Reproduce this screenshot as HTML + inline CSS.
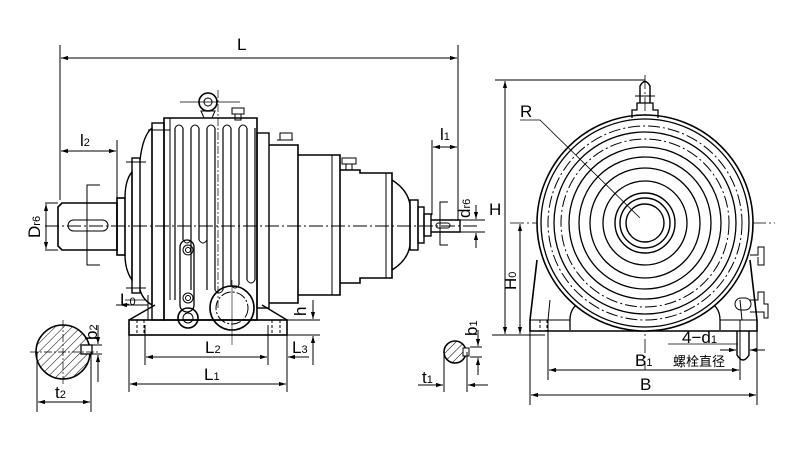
<!DOCTYPE html>
<html><head><meta charset="utf-8"><style>
html,body{margin:0;padding:0;background:#fff}
svg{display:block}
text{font-family:"Liberation Sans","Noto Sans CJK SC",sans-serif;fill:#000}
</style></head><body>
<svg width="799" height="454" viewBox="0 0 799 454" xmlns="http://www.w3.org/2000/svg">
<defs>
<marker id="a" viewBox="0 0 10 10" refX="10" refY="5" markerWidth="7" markerHeight="7" orient="auto-start-reverse"><path d="M0,2 L10,5 L0,8z" fill="#000"/></marker>
<pattern id="h" width="6" height="6" patternUnits="userSpaceOnUse" patternTransform="rotate(45)"><line x1="0" y1="0" x2="0" y2="6" stroke="#000" stroke-width="1"/></pattern>
</defs>
<g fill="none" stroke="#000" stroke-width="1">
<!-- L dimension -->
<line x1="60" y1="45" x2="60" y2="200"/>
<line x1="458" y1="45" x2="458" y2="220"/>
<line x1="61" y1="58" x2="457" y2="58" marker-start="url(#a)" marker-end="url(#a)"/>
<!-- l2 -->
<line x1="117" y1="140" x2="117" y2="200"/>
<line x1="61" y1="151" x2="116" y2="151" marker-start="url(#a)" marker-end="url(#a)"/>
<!-- l1 -->
<line x1="432" y1="140" x2="432" y2="215"/>
<line x1="433" y1="147" x2="457" y2="147" marker-start="url(#a)" marker-end="url(#a)"/>
<!-- center line -->
<line x1="45" y1="226" x2="480" y2="226" stroke-dasharray="14 3 2 3"/>
<!-- input shaft -->
<path d="M58,207 L62,203 L117,203 L117,250 L62,250 L58,246Z" stroke-width="1.6"/>
<rect x="68" y="220" width="40" height="11" rx="5.5"/>
<line x1="45" y1="203" x2="58" y2="203"/><line x1="45" y1="250" x2="58" y2="250"/>
<line x1="46" y1="204" x2="46" y2="249" marker-start="url(#a)" marker-end="url(#a)"/>
<polyline points="100,185 87,185 87,265 100,265"/>
<!-- left flange/dome -->
<rect x="117" y="198" width="8" height="57" stroke-width="1.6"/>
<path d="M125,198 Q125,180 132,172 L132,280 Q125,270 125,255" stroke-width="1.4"/>
<rect x="132" y="158" width="8" height="135" stroke-width="1.4"/>
<line x1="126" y1="162" x2="146" y2="162"/><line x1="126" y1="288" x2="146" y2="288"/>
<path d="M140,160 Q143,135 152,128 L152,305 Q143,300 140,290" stroke-width="1.4"/>
<line x1="125" y1="300" x2="145" y2="300" stroke-width="0.8"/>
<line x1="120" y1="305" x2="148" y2="305" marker-start="url(#a)" />
<line x1="148" y1="295" x2="148" y2="320"/>
<!-- main finned body -->
<rect x="152" y="123" width="12" height="197" stroke-width="1.4"/>
<line x1="148" y1="130" x2="170" y2="130"/>
<path d="M164,118 L257,118 L257,320 L164,320Z" stroke-width="1.6"/>
<line x1="170" y1="118" x2="170" y2="300"/>
<path d="M175,128 L175,300 M183,128 L183,240 M191,128 L191,290 M199,128 L199,240 M207,128 L207,290 M215,128 L215,290 M223,128 L223,290 M231,128 L231,285 M239,128 L239,285 M247,128 L247,280 M255,128 L255,280" stroke-width="1.2"/>
<path d="M175,128 Q179,122 183,128 M191,128 Q195,122 199,128 M207,128 Q211,122 215,128 M223,128 Q227,122 231,128 M239,128 Q243,122 247,128" />
<path d="M183,240 Q187,246 191,240 M199,240 Q203,246 207,240 M215,290 Q219,296 223,290 M231,285 Q235,291 239,285 M247,280 Q251,286 255,280"/>
<rect x="257" y="133" width="12" height="175" stroke-width="1.4"/>
<!-- eye bolt -->
<circle cx="208" cy="102" r="9" stroke-width="1.6"/><circle cx="208" cy="102" r="4"/>
<path d="M201,111 L215,111 L212,118 L204,118Z"/>
<line x1="180" y1="102" x2="240" y2="102" stroke-width="0.7"/>
<rect x="232" y="108" width="12" height="6"/><rect x="235" y="114" width="6" height="6"/>
<line x1="218" y1="90" x2="218" y2="310" stroke-dasharray="8 2 2 2" stroke-width="0.7"/>
<!-- oil gauge -->
<rect x="180" y="240" width="14" height="72" rx="7" stroke-width="1.3"/>
<circle cx="188" cy="250" r="5"/><circle cx="188" cy="250" r="2.5"/>
<circle cx="188" cy="298" r="5"/><circle cx="188" cy="298" r="2.5"/>
<circle cx="188" cy="318" r="10" stroke-width="1.6"/><circle cx="188" cy="318" r="5"/>
<!-- motor round -->
<circle cx="232" cy="308" r="22" stroke-width="1.6"/>
<circle cx="232" cy="308" r="16" stroke-dasharray="10 2 2 2"/>
<line x1="232" y1="280" x2="232" y2="345" stroke-width="0.6"/>
<!-- base -->
<path d="M129,320 L155,305 M287,320 L262,305" stroke-width="1.4"/>
<rect x="129" y="320" width="158" height="15" stroke-width="1.6"/>
<path d="M137,320 V335 M144,320 V335 M272,320 V335 M280,320 V335" stroke-dasharray="3 2"/>
<!-- second housing -->
<path d="M269,145 L298,145 L298,303 L269,303" stroke-width="1.6"/>
<path d="M277,140 L293,140 M280,133 h12 v7 h-12z" />
<path d="M298,155 L340,155 L340,295 L298,295" stroke-width="1.6"/>
<line x1="332" y1="155" x2="332" y2="295"/>
<rect x="342" y="158" width="14" height="6"/><rect x="346" y="164" width="6" height="6"/>
<path d="M340,170 L360,170 L360,173 L392,173 L392,278 L360,278 L360,283 L340,283" stroke-width="1.6"/>
<line x1="386" y1="173" x2="386" y2="278"/>
<path d="M392,180 Q408,190 410,205 L410,245 Q408,260 392,270" stroke-width="1.4"/>
<rect x="410" y="200" width="8" height="50" stroke-width="1.4"/>
<rect x="418" y="207" width="6" height="36" stroke-width="1.4"/>
<rect x="424" y="214" width="7" height="22" stroke-width="1.4"/>
<path d="M431,220 L460,220 L460,232 L431,232" stroke-width="1.4"/>
<rect x="436" y="223" width="14" height="5" rx="2.5"/>
<polyline points="448,202 440,202 440,245 448,245"/>
<line x1="458" y1="220" x2="485" y2="220"/><line x1="458" y1="232" x2="485" y2="232"/>
<line x1="476" y1="205" x2="476" y2="219" marker-end="url(#a)"/><line x1="476" y1="248" x2="476" y2="233" marker-end="url(#a)"/>
<!-- h / L3 -->
<line x1="287" y1="320" x2="320" y2="320"/><line x1="287" y1="335" x2="320" y2="335"/>
<line x1="313" y1="300" x2="313" y2="319" marker-end="url(#a)"/>
<line x1="313" y1="365" x2="313" y2="336" marker-end="url(#a)"/>
<!-- L0 -->
<line x1="116" y1="305" x2="145" y2="305"/>
<!-- L2 / L1 -->
<line x1="145" y1="325" x2="145" y2="365"/><line x1="268" y1="325" x2="268" y2="365"/>
<line x1="146" y1="357" x2="267" y2="357" marker-start="url(#a)" marker-end="url(#a)"/>
<line x1="288" y1="357" x2="309" y2="357" marker-start="url(#a)"/>
<line x1="129" y1="335" x2="129" y2="392"/><line x1="287" y1="335" x2="287" y2="392"/>
<line x1="130" y1="384" x2="286" y2="384" marker-start="url(#a)" marker-end="url(#a)"/>
<!-- section t2 -->
<circle cx="63" cy="352" r="27" fill="url(#h)" stroke-width="1.6"/>
<rect x="81" y="345" width="11" height="9" fill="#fff" stroke-width="1.3"/>
<line x1="30" y1="352" x2="100" y2="352" stroke-dasharray="8 2 2 2" stroke-width="0.7"/>
<line x1="63" y1="320" x2="63" y2="385" stroke-dasharray="8 2 2 2" stroke-width="0.7"/>
<line x1="37" y1="352" x2="37" y2="412"/><line x1="91" y1="352" x2="91" y2="412"/>
<line x1="38" y1="402" x2="90" y2="402" marker-start="url(#a)" marker-end="url(#a)"/>
<line x1="92" y1="345" x2="102" y2="345"/><line x1="92" y1="354" x2="102" y2="354"/>
<line x1="98" y1="325" x2="98" y2="344" marker-end="url(#a)"/><line x1="98" y1="382" x2="98" y2="355" marker-end="url(#a)"/>
<!-- section t1 -->
<circle cx="455" cy="352" r="11" fill="url(#h)" stroke-width="1.6"/>
<rect x="463" y="348" width="6" height="8" fill="#fff"/>
<line x1="444" y1="352" x2="444" y2="392"/><line x1="467" y1="352" x2="467" y2="392"/>
<line x1="418" y1="385" x2="443" y2="385" marker-end="url(#a)"/><line x1="488" y1="385" x2="468" y2="385" marker-end="url(#a)"/>
<line x1="470" y1="347" x2="482" y2="347"/><line x1="470" y1="357" x2="482" y2="357"/>
<line x1="478" y1="330" x2="478" y2="346" marker-end="url(#a)"/><line x1="478" y1="375" x2="478" y2="358" marker-end="url(#a)"/>

<!-- RIGHT VIEW -->
<line x1="495" y1="80" x2="645" y2="80"/>
<line x1="492" y1="335" x2="545" y2="335"/>
<line x1="505" y1="81" x2="505" y2="334" marker-start="url(#a)" marker-end="url(#a)"/>
<line x1="520" y1="224" x2="520" y2="334" marker-start="url(#a)" marker-end="url(#a)"/>
<line x1="510" y1="223" x2="775" y2="223" stroke-dasharray="14 3 2 3" stroke-width="0.8"/>
<line x1="645" y1="75" x2="645" y2="370" stroke-dasharray="14 3 2 3" stroke-width="0.8"/>
<!-- feet -->
<path d="M537,260 L530,320 L530,331 L757,331 L757,320 L750,260" stroke-width="1.6"/>
<path d="M550,300 L548,320 M740,300 L742,320"/>
<path d="M570,330 L570,320 Q570,305 585,300 M720,330 L720,320 Q720,305 705,300" stroke-width="1.3"/>
<path d="M540,320 V331 M547,320 V331" stroke-dasharray="3 2"/>
<line x1="530" y1="320" x2="570" y2="320"/><line x1="720" y1="320" x2="757" y2="320"/>
<!-- circles -->
<circle cx="645" cy="223" r="108" fill="#fff" stroke-width="1.6"/>
<circle cx="645" cy="223" r="104" stroke-width="1.3"/>
<circle cx="645" cy="223" r="97" stroke-dasharray="12 3 2 3"/>
<circle cx="645" cy="223" r="91" stroke-width="1.3"/>
<circle cx="645" cy="223" r="84" stroke-dasharray="12 3 2 3"/>
<circle cx="645" cy="223" r="76" stroke-width="1.3"/>
<circle cx="645" cy="223" r="66" stroke-width="1.3"/>
<circle cx="645" cy="223" r="55" stroke-width="1.3"/>
<circle cx="645" cy="223" r="42" stroke-width="1.3"/>
<circle cx="645" cy="223" r="30" stroke-width="1.4"/>
<circle cx="645" cy="223" r="25" stroke-width="1.4"/>
<circle cx="645" cy="223" r="19" stroke-width="1.4"/>
<!-- top plug -->
<path d="M632,118 L632,110 L637,110 L637,103 L653,103 L653,110 L658,110 L658,118" stroke-width="1.3"/>
<path d="M640,103 L640,86 Q645,77 650,86 L650,103" stroke-width="1.4"/>
<line x1="635" y1="96" x2="655" y2="96"/>
<!-- R leader -->
<polyline points="520,120 540,120 640,218" stroke-width="0.8"/>
<!-- right side bolts -->
<path d="M750,255 h8 v-8 h6 v18 h-6 v-8" />
<rect x="735" y="298" width="16" height="12" rx="6"/>
<path d="M750,300 h8 v-8 h6 v12 h4 v14 h-4 v-6 h-14"/>
<path d="M737,331 L737,355 Q743,365 749,355 L749,331" stroke-width="1.4"/>
<line x1="720" y1="350" x2="736" y2="350" marker-end="url(#a)"/>
<line x1="765" y1="350" x2="750" y2="350" marker-end="url(#a)"/>
<line x1="668" y1="344" x2="738" y2="344" stroke-width="0.8"/>
<!-- B1 / B -->
<line x1="548" y1="320" x2="548" y2="380"/><line x1="740" y1="320" x2="740" y2="380"/>
<line x1="549" y1="370" x2="739" y2="370" marker-start="url(#a)" marker-end="url(#a)"/>
<line x1="530" y1="331" x2="530" y2="405"/><line x1="757" y1="331" x2="757" y2="405"/>
<line x1="531" y1="395" x2="756" y2="395" marker-start="url(#a)" marker-end="url(#a)"/>
</g>
<g font-size="17">
<text x="237" y="50">L</text>
<text x="80" y="146">l<tspan font-size="11">2</tspan></text>
<text x="440" y="140">l<tspan font-size="11">1</tspan></text>
<text x="40" y="238" transform="rotate(-90 40 238)">D<tspan font-size="11">r6</tspan></text>
<text x="470" y="218" transform="rotate(-90 470 218)">d<tspan font-size="11">r6</tspan></text>
<text x="120" y="305">L<tspan font-size="11">0</tspan></text>
<text x="306" y="316" transform="rotate(-90 306 316)">h</text>
<text x="205" y="353">L<tspan font-size="11">2</tspan></text>
<text x="292" y="353">L<tspan font-size="11">3</tspan></text>
<text x="204" y="380">L<tspan font-size="11">1</tspan></text>
<text x="55" y="398">t<tspan font-size="11">2</tspan></text>
<text x="97" y="340" transform="rotate(-90 97 340)">b<tspan font-size="11">2</tspan></text>
<text x="422" y="383">t<tspan font-size="11">1</tspan></text>
<text x="477" y="336" transform="rotate(-90 477 336)">b<tspan font-size="11">1</tspan></text>
<text x="520" y="117">R</text>
<text x="489" y="215">H</text>
<text x="516" y="290" transform="rotate(-90 516 290)">H<tspan font-size="11">0</tspan></text>
<text x="682" y="343">4−d<tspan font-size="11">1</tspan></text>
<text x="635" y="366">B<tspan font-size="11">1</tspan></text>
<text x="640" y="390">B</text>
<text x="673" y="366" font-size="13">螺栓直径</text>
</g>
</svg>
</body></html>
